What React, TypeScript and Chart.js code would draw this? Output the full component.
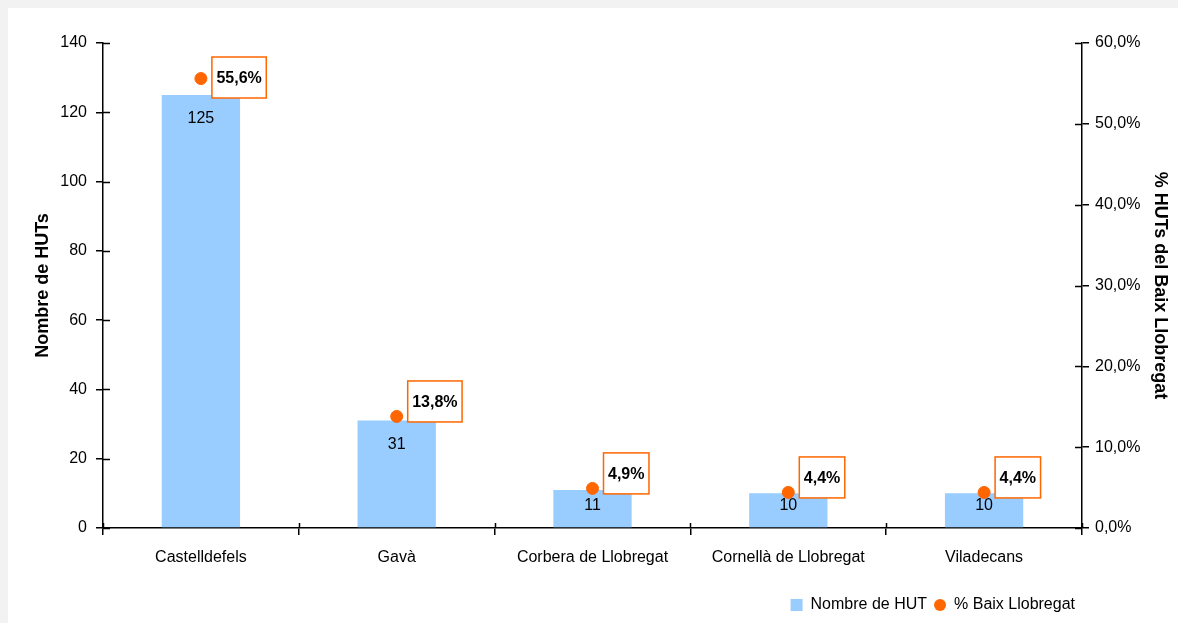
import React, { useEffect, useRef } from "react";
import { Chart, registerables } from "chart.js";

Chart.register(...registerables);

const categories = ["Castelldefels", "Gavà", "Corbera de Llobregat", "Cornellà de Llobregat", "Viladecans"];
const hutCounts = [125, 31, 11, 10, 10];
const pctBaix = [55.6, 13.8, 4.9, 4.4, 4.4];
const leftTicks = [0, 20, 40, 60, 80, 100, 120, 140];
const rightTicks = [0, 10, 20, 30, 40, 50, 60];
const seriesLabels = ["Nombre de HUT", "% Baix Llobregat"];
const axisTitles = ["Nombre de HUTs", "% HUTs del Baix Llobregat"];

const FONT = "'Liberation Sans', Arial, sans-serif";
const BLUE = "#99ccff";
const ORANGE = "#ff6600";

const fmtPct = (v: number) => v.toFixed(1).replace(".", ",") + "%";

function makeDot(color: string, d: number) {
  const c = document.createElement("canvas");
  c.width = d;
  c.height = d;
  const x = c.getContext("2d")!;
  x.fillStyle = color;
  x.beginPath();
  x.arc(d / 2, d / 2, d / 2, 0, Math.PI * 2);
  x.fill();
  return c;
}

const crossTicks = {
  id: "crossTicks",
  afterDatasetsDraw(chart: any) {
    const { ctx, chartArea } = chart;
    ctx.save();
    ctx.strokeStyle = "#000";
    ctx.lineWidth = 1.5;
    const y = chart.scales.y;
    const y1 = chart.scales.y1;
    ctx.beginPath();
    leftTicks.forEach((v) => {
      const p = Math.round(y.getPixelForValue(v)) + 0.5;
      ctx.moveTo(chartArea.left, p);
      ctx.lineTo(chartArea.left + 7, p);
    });
    rightTicks.forEach((v) => {
      const p = Math.round(y1.getPixelForValue(v)) + 0.5;
      ctx.moveTo(chartArea.right - 7, p);
      ctx.lineTo(chartArea.right, p);
    });
    const n = categories.length;
    const w = (chartArea.right - chartArea.left) / n;
    for (let i = 0; i <= n; i++) {
      const p = Math.round(chartArea.left + i * w) + 0.5;
      ctx.moveTo(p, chartArea.bottom - 5);
      ctx.lineTo(p, chartArea.bottom);
    }
    ctx.stroke();
    ctx.restore();
  },
};

const valueLabels = {
  id: "valueLabels",
  afterDatasetsDraw(chart: any) {
    const { ctx, chartArea } = chart;
    ctx.save();
    ctx.textAlign = "center";
    ctx.textBaseline = "middle";
    ctx.fillStyle = "#000";
    ctx.font = `16px ${FONT}`;
    const barMeta = chart.getDatasetMeta(0);
    barMeta.data.forEach((el: any, i: number) => {
      const cy = Math.min(el.y + 24, el.base - 22);
      ctx.fillText(String(hutCounts[i]), el.x, cy);
    });
    const lineMeta = chart.getDatasetMeta(1);
    ctx.font = `bold 16px ${FONT}`;
    lineMeta.data.forEach((el: any, i: number) => {
      const txt = fmtPct(pctBaix[i]);
      const tw = ctx.measureText(txt).width;
      const bw = tw + 9;
      const bh = 41;
      const bx = el.x + 11;
      let cy = el.y - 15;
      if (cy - bh / 2 < chartArea.top + 14) cy = chartArea.top + 14 + bh / 2;
      ctx.fillStyle = "#fff";
      ctx.fillRect(bx, cy - bh / 2, bw, bh);
      ctx.strokeStyle = ORANGE;
      ctx.lineWidth = 1.5;
      ctx.strokeRect(bx, cy - bh / 2, bw, bh);
      ctx.fillStyle = "#000";
      ctx.fillText(txt, bx + bw / 2, cy + 1);
    });
    ctx.restore();
  },
};

export default function App() {
  const ref = useRef<HTMLCanvasElement | null>(null);
  useEffect(() => {
    if (!ref.current) return;
    const circleDot = makeDot(ORANGE, 12);
    const chart = new Chart(ref.current, {
      type: "bar",
      data: {
        labels: categories,
        datasets: [
          {
            type: "bar",
            label: seriesLabels[0],
            data: hutCounts,
            backgroundColor: BLUE,
            borderWidth: 0,
            barPercentage: 0.4,
            categoryPercentage: 1,
            yAxisID: "y",
            order: 2,
          } as any,
          {
            type: "line",
            label: seriesLabels[1],
            data: pctBaix,
            showLine: false,
            pointRadius: 6,
            pointHoverRadius: 6,
            pointBackgroundColor: ORANGE,
            pointBorderColor: ORANGE,
            borderColor: ORANGE,
            backgroundColor: ORANGE,
            yAxisID: "y1",
            order: 1,
          } as any,
        ],
      },
      options: {
        responsive: false,
        animation: false,
        layout: { padding: { top: 35, left: 0, right: 0, bottom: 0 } },
        plugins: {
          tooltip: { enabled: false },
          legend: {
            position: "bottom",
            align: "end",
            fullSize: false,
            labels: {
              usePointStyle: true,
              boxWidth: 12,
              boxHeight: 12,
              padding: 7,
              color: "#000",
              font: { family: FONT, size: 16 },
              generateLabels: (ch: any) =>
                ch.data.datasets.map((ds: any, i: number) => ({
                  text: ds.label,
                  fillStyle: ds.backgroundColor,
                  strokeStyle: ds.backgroundColor,
                  lineWidth: 0,
                  pointStyle: i === 0 ? "rect" : circleDot,
                  datasetIndex: i,
                  hidden: false,
                  fontColor: "#000",
                })),
            },
          },
        },
        scales: {
          x: {
            offset: true,
            grid: { display: true, drawOnChartArea: false, drawTicks: true, tickLength: 7, color: "#000", lineWidth: 1.5, offset: true },
            border: { display: true, color: "#000", width: 1.5 },
            ticks: { color: "#000", font: { family: FONT, size: 16 }, padding: 13, maxRotation: 0 },
            afterFit: (s: any) => {
              s.height = 62;
            },
          },
          y: {
            position: "left",
            min: 0,
            max: 140,
            afterBuildTicks: (s: any) => {
              s.ticks = leftTicks.map((v) => ({ value: v }));
            },
            grid: { display: true, drawOnChartArea: false, drawTicks: true, tickLength: 7, color: "#000", lineWidth: 1.5 },
            border: { display: true, color: "#000", width: 1.5 },
            ticks: { color: "#000", font: { family: FONT, size: 16 }, padding: 9 },
            title: { display: true, text: axisTitles[0], color: "#000", font: { family: FONT, size: 18, weight: "bold" }, padding: { top: 24, bottom: 0 } },
            afterFit: (s: any) => {
              s.width = 95;
            },
          },
          y1: {
            position: "right",
            min: 0,
            max: 60,
            afterBuildTicks: (s: any) => {
              s.ticks = rightTicks.map((v) => ({ value: v }));
            },
            grid: { display: true, drawOnChartArea: false, drawTicks: true, tickLength: 7, color: "#000", lineWidth: 1.5 },
            border: { display: true, color: "#000", width: 1.5 },
            ticks: { color: "#000", font: { family: FONT, size: 16 }, padding: 6, callback: (v: any) => fmtPct(Number(v)) },
            title: { display: true, text: axisTitles[1], color: "#000", font: { family: FONT, size: 18, weight: "bold" }, padding: { top: 7, bottom: 0 } },
            afterFit: (s: any) => {
              s.width = 96;
            },
          },
        },
      },
      plugins: [crossTicks, valueLabels],
    });
    return () => chart.destroy();
  }, []);

  return (
    <div style={{ position: "fixed", left: 0, top: 0, width: 1178, height: 623, background: "#f2f2f2", overflow: "hidden" }}>
      <div style={{ position: "absolute", left: 8, top: 8, width: 1170, height: 615, background: "#fff" }}>
        <canvas ref={ref} width={1170} height={615} style={{ display: "block" }} />
      </div>
    </div>
  );
}
